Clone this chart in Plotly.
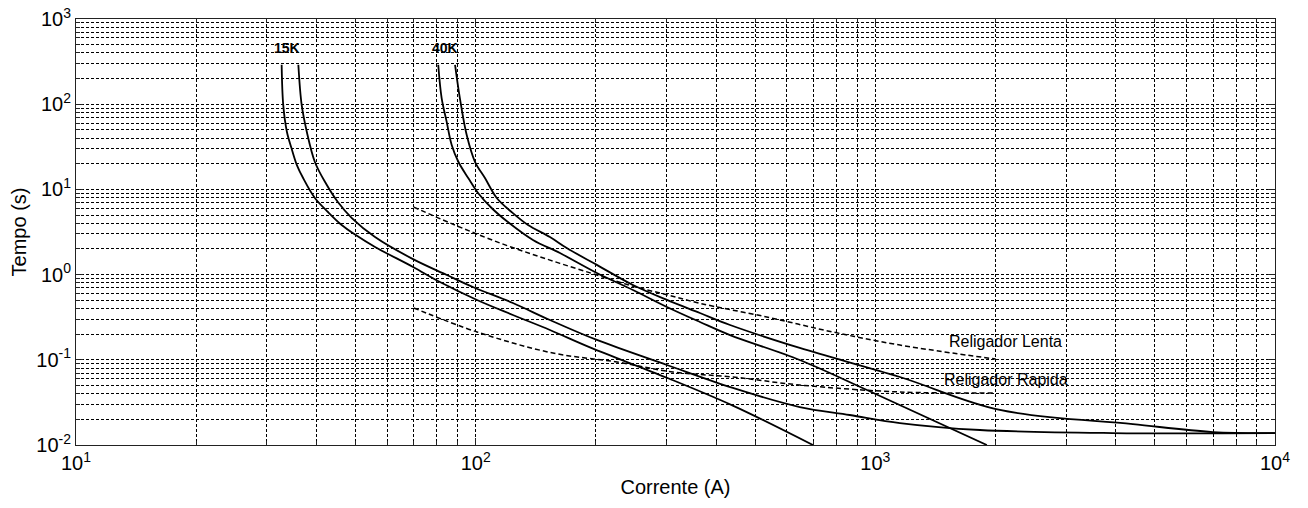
import math
import plotly.graph_objects as go

# ---- data (current in A, time in s) ----
fuse15k_min_I = [32.7, 33.0, 33.7, 34.6, 35.7, 37.0, 39.6, 42.7, 46.2, 49.9, 56.0, 69.7, 81.4, 100.8, 123.9, 153.4, 193.2, 301, 440, 698]
fuse15k_min_t = [290, 98, 47.5, 30.6, 19.3, 13.6, 7.93, 5.43, 3.82, 2.95, 2.11, 1.23, 0.818, 0.504, 0.336, 0.224, 0.14, 0.0615, 0.029, 0.010]

fuse15k_clr_I = [36.0, 36.7, 37.8, 39.6, 42.0, 45.2, 49.0, 56.0, 69.7, 84.7, 98.4, 123.9, 153.4, 201, 301, 440, 647, 863, 1152, 1827, 3927, 10000]
fuse15k_clr_t = [290, 98, 47.5, 21.0, 12.2, 7.11, 4.61, 2.76, 1.52, 0.989, 0.715, 0.464, 0.293, 0.171, 0.0869, 0.0467, 0.0279, 0.0225, 0.0181, 0.0150, 0.0138, 0.0138]

fuse40k_min_I = [80.6, 82.2, 84.6, 87.1, 90.5, 95.8, 101.5, 109.6, 120.4, 139.1, 162.5, 201, 247.5, 301, 364, 433, 647, 953, 1901]
fuse40k_min_t = [290, 118, 62.4, 33.2, 21.1, 13.6, 9.0, 6.05, 4.14, 2.55, 1.79, 1.045, 0.66, 0.417, 0.278, 0.195, 0.0995, 0.0442, 0.010]

fuse40k_clr_I = [88.8, 91.3, 94.9, 99.6, 105.5, 112.9, 123.0, 135.2, 153.4, 169.0, 201, 247.5, 301, 364, 433, 647, 1152, 2049, 4410, 6993, 10000]
fuse40k_clr_t = [290, 118, 44, 21.1, 13.6, 7.93, 5.43, 3.82, 2.76, 2.05, 1.30, 0.755, 0.504, 0.354, 0.256, 0.1377, 0.0628, 0.0258, 0.0176, 0.0142, 0.0138]

relig_lenta_I = [70, 86.2, 115, 153.4, 201, 247.5, 301, 364, 535, 783, 1152, 2000]
relig_lenta_t = [6.2, 4.04, 2.35, 1.48, 0.989, 0.73, 0.58, 0.46, 0.318, 0.212, 0.149, 0.102]

relig_rapida_I = [70, 100.8, 156.1, 225.7, 311.6, 440, 647, 1152, 2000]
relig_rapida_t = [0.406, 0.212, 0.120, 0.0942, 0.0719, 0.0628, 0.0506, 0.0419, 0.0407]

x_tickvals = [10, 100, 1000, 10000]
x_ticktext = ["10<sup>1</sup>", "10<sup>2</sup>", "10<sup>3</sup>", "10<sup>4</sup>"]
y_tickvals = [0.01, 0.1, 1, 10, 100, 1000]
y_ticktext = ["10<sup>-2</sup>", "10<sup>-1</sup>", "10<sup>0</sup>", "10<sup>1</sup>", "10<sup>2</sup>", "10<sup>3</sup>"]

labels = ["15K", "40K", "Religador Lenta", "Religador Rapida"]
label_I = [33.7, 83.8, 2120, 2120]
label_t = [457, 457, 0.162, 0.0595]

FONT = "Liberation Sans, Arial, sans-serif"

fig = go.Figure()
solid = dict(color="black", width=1.8)
dashed = dict(color="black", width=1.5, dash="5px,3px")
for xs, ys, ln in [
    (fuse15k_min_I, fuse15k_min_t, solid),
    (fuse15k_clr_I, fuse15k_clr_t, solid),
    (fuse40k_min_I, fuse40k_min_t, solid),
    (fuse40k_clr_I, fuse40k_clr_t, solid),
    (relig_lenta_I, relig_lenta_t, dashed),
    (relig_rapida_I, relig_rapida_t, dashed),
]:
    fig.add_trace(go.Scatter(x=xs, y=ys, mode="lines", line=dict(shape="spline", smoothing=1.0, **ln),
                             showlegend=False, hoverinfo="skip"))

for txt, xi, yi in zip(labels, label_I, label_t):
    bold = txt.endswith("K")
    fig.add_annotation(x=math.log10(xi), y=math.log10(yi), xref="x", yref="y",
                       text=f"<b>{txt}</b>" if bold else txt, showarrow=False,
                       font=dict(family=FONT, size=14 if bold else 16, color="black"))

axis_common = dict(
    type="log", showline=True, linecolor="#222", linewidth=1, mirror="allticks",
    ticks="inside", ticklen=7, tickcolor="#222", automargin=False, ticklabeloverflow="allow",
    tickfont=dict(family=FONT, size=20, color="black"),
    zeroline=False,
    showgrid=True, gridcolor="black", gridwidth=1, griddash="3px,2px",
    minor=dict(ticks="inside", ticklen=4, tickcolor="#222", dtick="D1",
               showgrid=True, gridcolor="black", gridwidth=1, griddash="3px,2px"),
)
fig.update_xaxes(range=[1, 4], tickvals=x_tickvals, ticktext=x_ticktext,
                 title=dict(text="Corrente (A)", font=dict(family=FONT, size=20, color="black"), standoff=6),
                 **axis_common)
fig.update_yaxes(range=[-2, 3], tickvals=y_tickvals, ticktext=y_ticktext,
                 title=dict(text="Tempo (s)", font=dict(family=FONT, size=20, color="black"), standoff=4),
                 **axis_common)
fig.update_layout(width=1308, height=508, margin=dict(l=76, r=33, t=19, b=63),
                  plot_bgcolor="white", paper_bgcolor="white")
# remove the default 8px page margin so the figure fills the window exactly
fig.write_html("out.html", config={"displayModeBar": False},
               post_script="document.body.style.margin='0px';")
